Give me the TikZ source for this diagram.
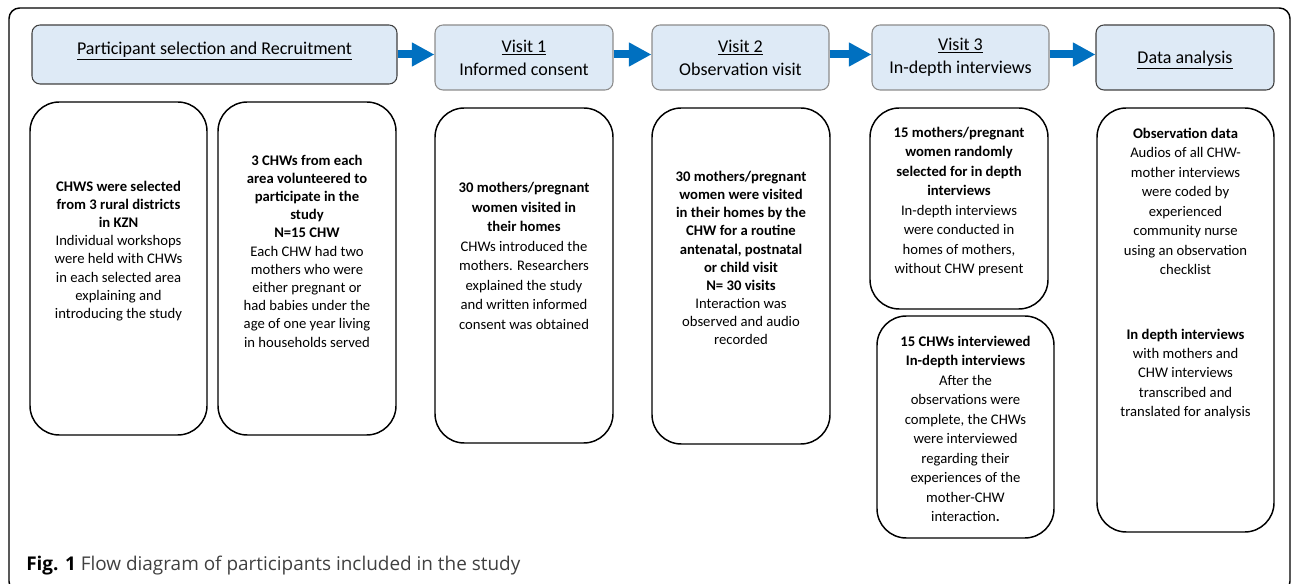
\documentclass[tikz,border=0pt]{standalone}
\usepackage{fontspec}
\setmainfont{Carlito}
\newfontfamily\capfont{Open Sans}
\usetikzlibrary{arrows.meta}
\usetikzlibrary{positioning}
\definecolor{hblue}{RGB}{222,234,246}
\definecolor{hgray}{RGB}{140,140,140}
\definecolor{ablue}{RGB}{0,112,192}
\tikzset{head/.style = {draw = hgray, fill = hblue, rounded corners = 6pt, line width = 0.8pt,
    align = center, inner sep = 0, font = \fontsize{13.5}{17.25}\selectfont}}
\tikzset{card/.style = {draw, rounded corners = 22pt, line width = 1.1pt, inner sep = 0}}
\tikzset{cardtxt/.style = {align = center, inner sep = 0, font = \fontsize{11}{14.6}\selectfont}}
\tikzset{flow/.style = {draw = ablue, line width = 6pt, -{Triangle[length = 17pt, width = 17pt]}}}

\begin{document}
\begin{tikzpicture}[x = 0.75pt, y = -0.75pt]
      \useasboundingbox (0, 0) rectangle (1292, 584);
      \clip (0, 0) rectangle (1292, 584);
      \draw [rounded corners = 8pt, line width = 1.1pt] (9, 8) rectangle (1290, 592);
      % header row
      \node [head, draw = black!75, minimum width = 273.75pt, minimum height = 44.25pt] (sel) at (214.5, 54.5)
        {\raisebox{2.6pt}[\height][\depth]{\underline{Participant selection and Recruitment}}};
      \node [head, minimum width = 133.5pt, minimum height = 48.75pt] (v1) at (524, 57.5)
        {\underline{Visit 1}\\Informed consent};
      \node [head, minimum width = 132.75pt, minimum height = 48.75pt] (v2) at (740.5, 57.5)
        {\underline{Visit 2}\\Observation visit};
      \node [head, minimum width = 132.75pt, minimum height = 48.75pt] (v3) at (960.5, 57.5)
        {\underline{Visit 3}\\In-depth interviews};
      \node [head, draw = black!75, minimum width = 133.5pt, minimum height = 48.75pt] (data) at (1185, 57.5)
        {\raisebox{-2.2pt}[\height][\depth]{\underline{Data analysis}}};
      \draw [flow] (sel.east) -- (sel.east -| v1.west);
      \draw [flow] (v1.east |- sel.east) -- (v2.west |- sel.east);
      \draw [flow] (v2.east |- sel.east) -- (v3.west |- sel.east);
      \draw [flow] (v3.east |- sel.east) -- (data.west |- sel.east);
      % boxes below
      \node [card, minimum width = 132.75pt, minimum height = 249.75pt] (b1) at (118.5, 268.5) {};
      \node [card, minimum width = 133.5pt, minimum height = 249.75pt] (b2) at (307, 268.5) {};
      \node [card, minimum width = 133.5pt, minimum height = 251.25pt] (b3) at (524, 275.5) {};
      \node [card, minimum width = 133.5pt, minimum height = 252pt] (b4) at (741, 276) {};
      \node [card, minimum width = 133.5pt, minimum height = 150.75pt] (b5) at (959, 208.5) {};
      \node [card, minimum width = 132.75pt, minimum height = 166.5pt] (b6) at (965.5, 427) {};
      \node [card, minimum width = 132.75pt, minimum height = 318pt] (b7) at (1185.5, 320) {};
      \node [cardtxt, font = \fontsize{11}{13.65}\selectfont] (t1) at (118.5, 251)
        {\textbf{CHWS were selected}\\\textbf{from 3 rural districts}\\\textbf{in KZN}\\
         Individual workshops\\were held with CHWs\\in each selected area\\explaining and\\introducing the study};
      \node [cardtxt, font = \fontsize{11}{13.65}\selectfont] (t2) at (307, 251)
        {\textbf{3 CHWs from each}\\\textbf{area volunteered to}\\\textbf{participate in the}\\\textbf{study}\\\textbf{N=15 CHW}\\
         Each CHW had two\\mothers who were\\either pregnant or\\had babies under the\\age of one year living\\in households served};
      \node [cardtxt] (t3) at (524, 256)
        {\textbf{30 mothers/pregnant}\\\textbf{women visited in}\\\textbf{their homes}\\
         CHWs introduced the\\mothers. Researchers\\explained the study\\and written informed\\consent was obtained};
      \node [cardtxt, font = \fontsize{11}{13.6}\selectfont] (t4) at (741, 258)
        {\textbf{30 mothers/pregnant}\\\textbf{women were visited}\\\textbf{in their homes by the}\\\textbf{CHW for a routine}\\
         \textbf{antenatal, postnatal}\\\textbf{or child visit}\\\textbf{N= 30 visits}\\
         Interaction was\\observed and audio\\recorded};
      \node [cardtxt] (t5) at (959, 201.5)
        {\textbf{15 mothers/pregnant}\\\textbf{women randomly}\\\textbf{selected for in depth}\\\textbf{interviews}\\
         In-depth interviews\\were conducted in\\homes of mothers,\\without CHW present};
      \node [cardtxt] (t6) at (965.5, 429)
        {\textbf{15 CHWs interviewed}\\\textbf{In-depth interviews}\\
         After the\\observations were\\complete, the CHWs\\were interviewed\\regarding their\\experiences of the\\mother-CHW\\interaction\textbf{.}};
      \node [cardtxt] (t7) at (1185.5, 201.5)
        {\textbf{Observation data}\\Audios of all CHW-\\mother interviews\\were coded by\\experienced\\community nurse\\using an observation\\checklist};
      \node [cardtxt] (t8) at (1185.5, 374)
        {\textbf{In depth interviews}\\with mothers and\\CHW interviews\\transcribed and\\translated for analysis};
      % caption
      \node [anchor = base west, inner sep = 0, font = \capfont\fontsize{14.2}{16}\selectfont, text = black!75] (cap) at (26, 570)
        {\textcolor{black}{\textbf{Fig. 1}} Flow diagram of participants included in the study};
    \end{tikzpicture}
\end{document}
